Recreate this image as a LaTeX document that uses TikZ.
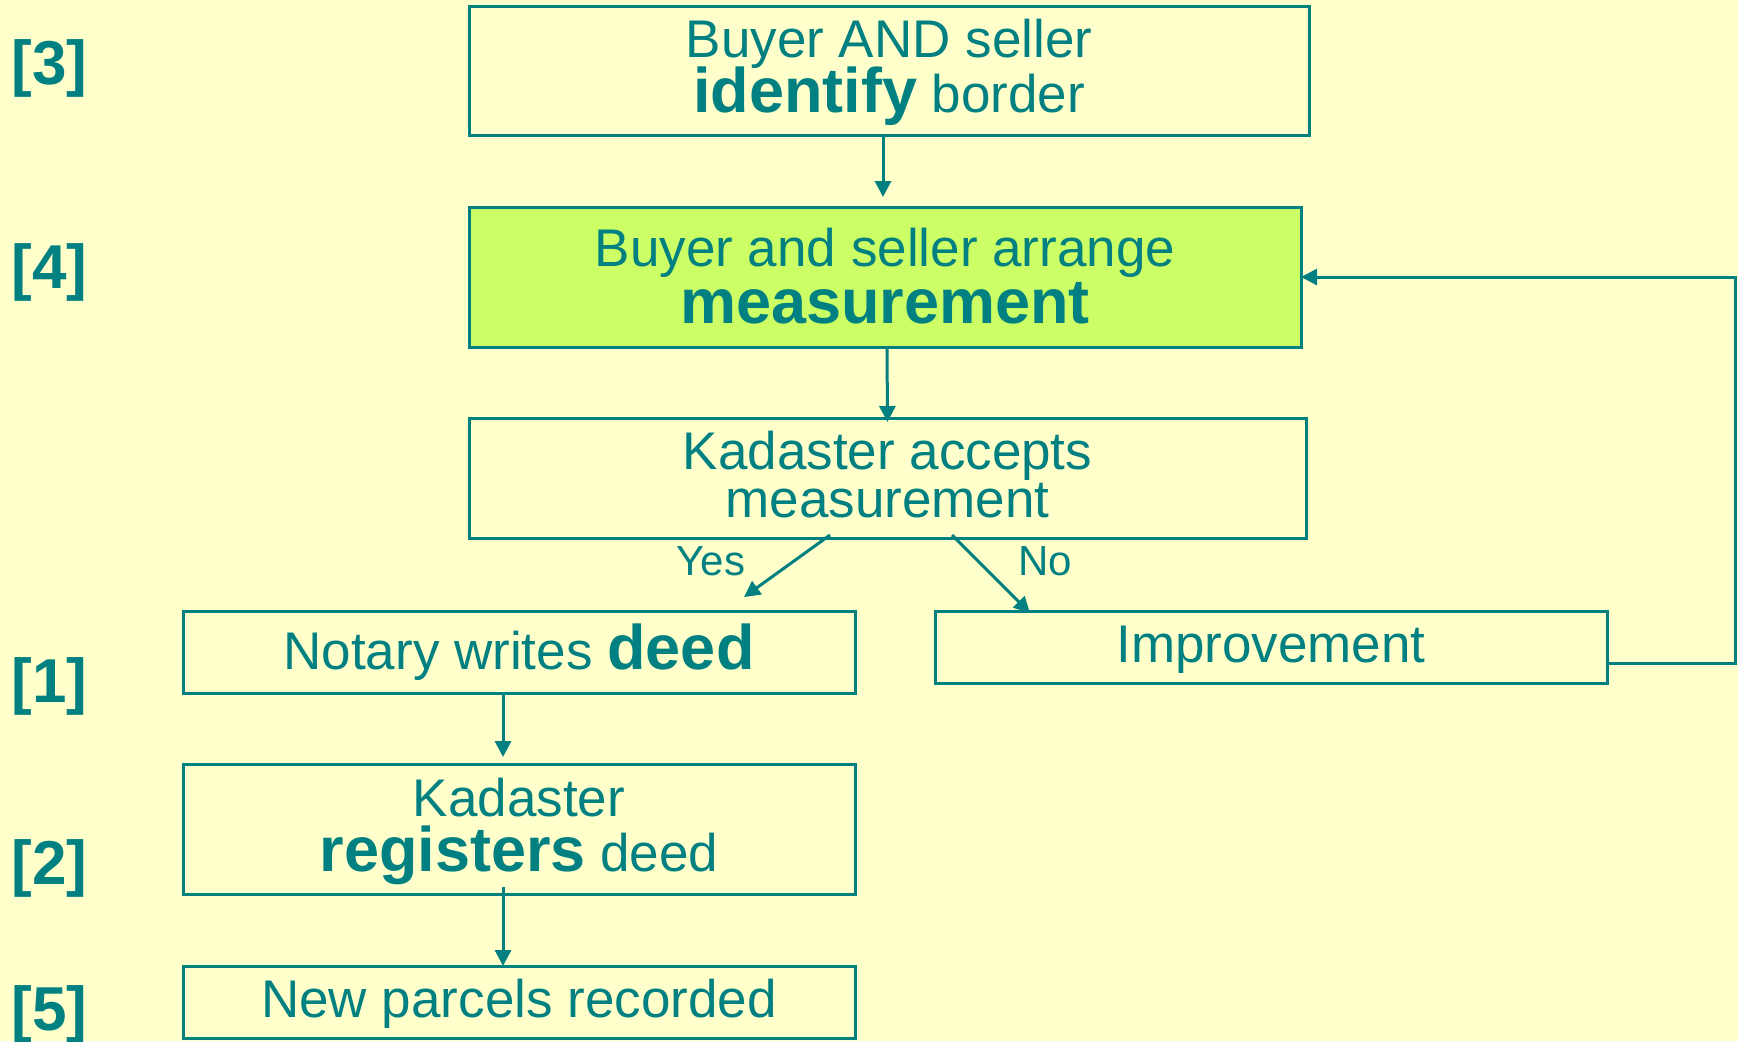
\documentclass[tikz,border=0pt]{standalone}
\usepackage{fontspec}
\setmainfont{Liberation Sans}
\usetikzlibrary{arrows.meta}
\definecolor{tealc}{RGB}{0,128,128}
\definecolor{bgc}{RGB}{255,255,204}
\definecolor{greenc}{RGB}{204,255,102}
\newcommand\bigb[1]{{\fontsize{31.5}{36}\selectfont\bfseries #1}}
\tikzset{
  box/.style={draw=tealc, line width=1.5pt, rectangle, inner sep=0pt, outer sep=0pt},
  txt/.style={text=tealc, anchor=base, inner sep=0pt, font=\fontsize{26.5}{30}\selectfont},
  smalltxt/.style={text=tealc, anchor=base, inner sep=0pt, font=\fontsize{21}{25}\selectfont},
  lbl/.style={text=tealc, anchor=base, inner sep=0pt, font=\fontsize{31}{36}\selectfont\bfseries},
  arr/.style={draw=tealc, line width=1.5pt, -{Triangle[length=8pt,width=8pt]}},
}
\begin{document}
\begin{tikzpicture}[x=0.5pt,y=-0.5pt]
\fill[bgc] (0,0) rectangle (1738,1041);
\useasboundingbox (0,0) rectangle (1738,1041);

% boxes
\node[box, minimum width=420pt, minimum height=64.5pt] (b1) at (889,70.5) {};
\node[box, fill=greenc, minimum width=416pt, minimum height=70pt] (b2) at (885,277) {};
\node[box, minimum width=418.5pt, minimum height=60pt] (b3) at (887.5,478) {};
\node[box, minimum width=336pt, minimum height=41pt] (b4) at (519,652) {};
\node[box, minimum width=336pt, minimum height=36pt] (b5) at (1271,647) {};
\node[box, minimum width=336pt, minimum height=65pt] (b6) at (519,829) {};
\node[box, minimum width=336pt, minimum height=36pt] (b7) at (519,1002) {};

% texts
\node[txt] (t1a) at (889,57) {Buyer AND seller};
\node[txt] (t1b) at (889,112) {\bigb{identify} border};
\node[txt] (t2a) at (885,266) {Buyer and seller arrange};
\node[txt] (t2b) at (885,323) {\bigb{measurement}};
\node[txt] (t3a) at (887.5,469) {Kadaster accepts};
\node[txt] (t3b) at (887.5,517) {measurement};
\node[txt] (t4) at (519,669) {Notary writes \bigb{deed}};
\node[txt] (t5) at (1271,662) {Improvement};
\node[txt] (t6a) at (519,816) {Kadaster};
\node[txt] (t6b) at (519,871) {\bigb{registers} deed};
\node[txt] (t7) at (519,1017) {New parcels recorded};
\node[smalltxt] (yes) at (711,575) {Yes};
\node[smalltxt] (no) at (1045,575) {No};

% step labels
\node[lbl] (l3) at (49.5,84) {[3]};
\node[lbl] (l4) at (49.5,288) {[4]};
\node[lbl] (l1) at (49.5,702) {[1]};
\node[lbl] (l2) at (49.5,884) {[2]};
\node[lbl] (l5) at (49.5,1030) {[5]};

% connectors
\draw[arr] ([xshift=-3pt]b1.south) -- ([xshift=-1pt,yshift=5pt]b2.north);
\draw[arr] ([xshift=1pt]b2.south) -- ([yshift=-2pt]b3.north);
\draw[arr] ([xshift=-28.75pt,yshift=1.5pt]b3.south) -- ([xshift=112.5pt,yshift=7pt]b4.north);
\draw[arr] ([xshift=32.25pt,yshift=1.5pt]b3.south) -- ([xshift=-120.5pt,yshift=-1pt]b5.north);
\draw[arr] ([xshift=-8pt]b4.south) -- ([xshift=-8pt,yshift=3.5pt]b6.north);
\draw[arr] ([xshift=-8pt,yshift=3.5pt]b6.south) -- ([xshift=-8pt]b7.north);
\coordinate (fb) at (1735,277);
\draw[arr] ([yshift=-8pt]b5.east) -| (fb) -- (b2.east);
\end{tikzpicture}
\end{document}
